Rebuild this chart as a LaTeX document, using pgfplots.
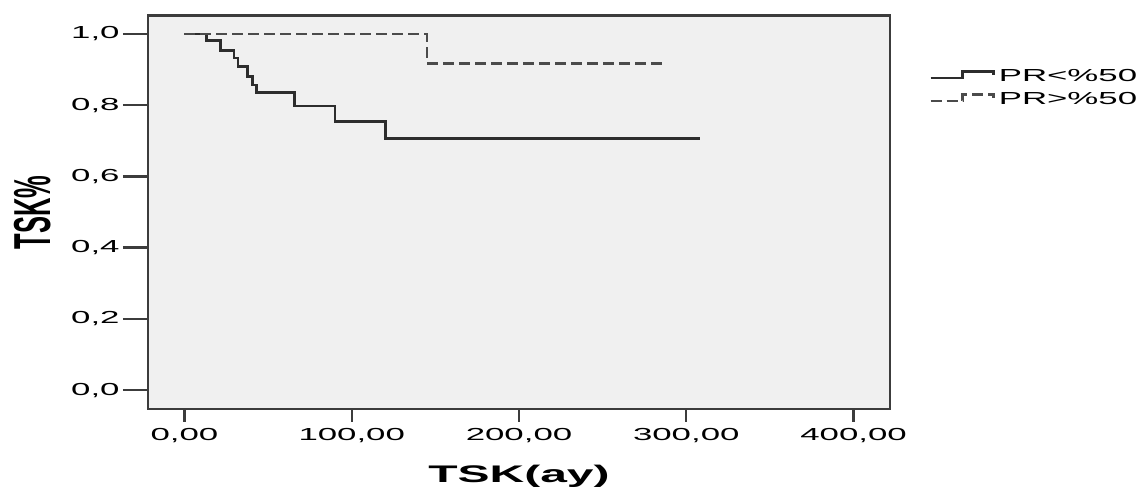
\documentclass[border=0pt]{standalone}
\usepackage{fontspec}
\setmainfont[FakeStretch=2.0]{Liberation Sans}
\newfontfamily\ylabfont[FakeStretch=0.49]{Liberation Sans}
\usepackage{pgfplots}
\pgfplotsset{compat=1.18}
\definecolor{bgc}{RGB}{240,240,240}
\definecolor{framec}{RGB}{60,60,60}
\definecolor{solidc}{RGB}{45,45,45}
\definecolor{dashc}{RGB}{75,75,75}
\begin{document}
\begin{tikzpicture}
\useasboundingbox (0,0) rectangle (570.5pt,245.5pt);
\begin{axis}[
  at={(74pt,41pt)}, anchor=south west,
  scale only axis, width=371pt, height=196.75pt,
  xmin=-21.8, xmax=421.8, ymin=-0.053, ymax=1.052,
  axis background/.style={fill=bgc},
  axis line style={framec, line width=1.4pt},
  xtick={0,100,200,300,400},
  ytick={0,0.2,0.4,0.6,0.8,1.0},
  tick align=outside,
  xtick pos=bottom, ytick pos=left,
  xtick style={framec, line width=1.2pt, /pgfplots/major tick length=6.5pt},
  ytick style={framec, line width=1.2pt, /pgfplots/major tick length=12.5pt},
  /pgf/number format/assume math mode=true,
  /pgf/number format/use comma,
  xticklabel style={/pgf/number format/fixed, /pgf/number format/fixed zerofill, /pgf/number format/precision=2, font=\fontsize{8.7}{10}\selectfont, inner sep=1pt, yshift=-4.25pt},
  yticklabel style={/pgf/number format/fixed, /pgf/number format/fixed zerofill, /pgf/number format/precision=1, font=\fontsize{8.7}{10}\selectfont, inner xsep=1.5pt, xshift=-8.25pt},
  xlabel={\bfseries TSK(ay)},
  every axis x label/.style={at={(axis description cs:0.5,-0.188)}, anchor=base, font=\fontsize{12}{14}\selectfont},
  ylabel={\ylabfont\bfseries TSK\%},
  every axis y label/.style={at={(axis description cs:-0.156,0.5)}, anchor=center, rotate=90, font=\fontsize{26}{28}\selectfont},
  legend style={at={(axis description cs:1.0526,0.875)}, anchor=north west, draw=none, fill=none, inner sep=0pt, font=\fontsize{8.7}{10}\selectfont, row sep=0pt},
  legend cell align=left,
  legend image code/.code={\draw[#1] (0pt,-0.6pt) -- (16pt,-0.6pt) -- (16pt,2.6pt) -- (31.4pt,2.6pt) -- (31.4pt,0.8pt);},
]
\addplot[const plot, solidc, line width=1.3pt] coordinates {
 (0,1.0) (13,0.981) (21.6,0.953) (29.5,0.933) (32,0.908) (37.8,0.880) (40.6,0.857) (43,0.835)
 (65.7,0.798) (90,0.754) (120.3,0.707) (308,0.707)};
\addlegendentry{PR<\%50}
\addplot[const plot, dashc, line width=1.3pt, dash pattern=on 5.5pt off 2.5pt] coordinates {
 (0,1.0) (145,0.918) (287,0.918)};
\addlegendentry{PR>\%50}
\end{axis}
\end{tikzpicture}
\end{document}
